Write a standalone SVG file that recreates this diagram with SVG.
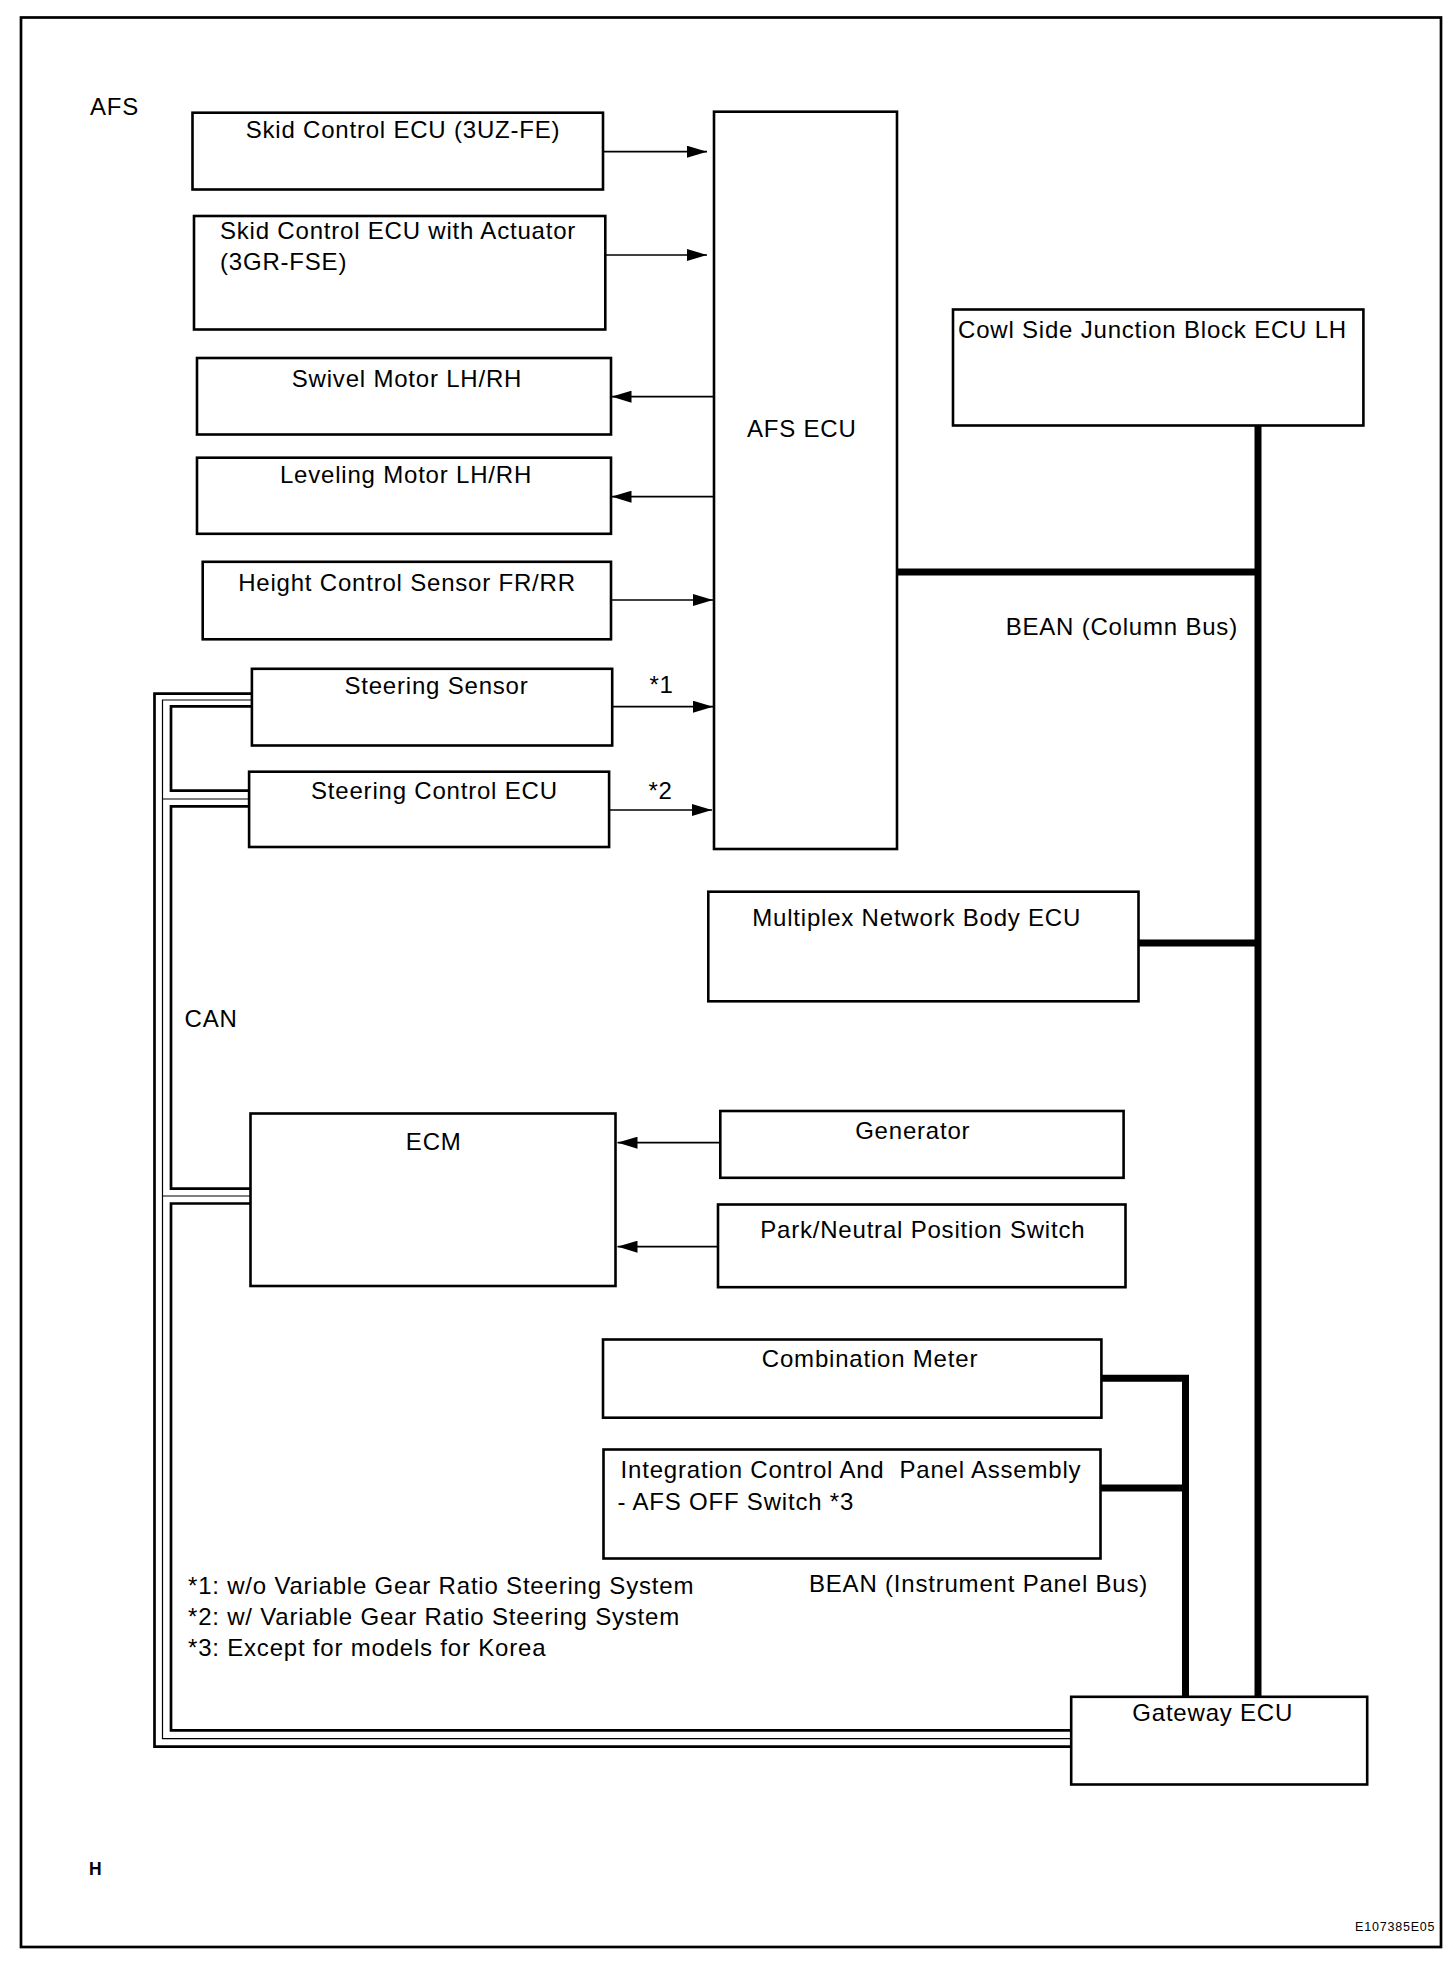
<svg xmlns="http://www.w3.org/2000/svg" width="1456" height="1970" viewBox="0 0 1456 1970">
<style>
  .box { fill: #fff; stroke: #000; stroke-width: 2.6; }
  .frame { fill: none; stroke: #000; stroke-width: 2.7; }
  .t { font-family: "Liberation Sans", Arial, sans-serif; font-size: 24px; letter-spacing: 0.8px; fill: #000; }
  .m { text-anchor: middle; }
  .arr { stroke: #000; stroke-width: 1.7; fill: none; marker-end: url(#ah); }
  .bean { stroke: #000; stroke-width: 7; fill: none; stroke-linejoin: miter; stroke-linecap: butt; }
  .canT { stroke: #000; stroke-width: 2.7; fill: none; stroke-linejoin: miter; }
  .canM { stroke: #000; stroke-width: 1.2; fill: none; }
</style>
<defs>
  <marker id="ah" viewBox="0 0 20 12" refX="20" refY="6" markerWidth="20" markerHeight="12" markerUnits="userSpaceOnUse" orient="auto">
    <path d="M0,0 L20,6 L0,12 z" fill="#000"/>
  </marker>
</defs>
<rect x="0" y="0" width="1456" height="1970" fill="#fff"/>
<rect class="frame" x="21" y="17.5" width="1420" height="1929.5"/>
<text class="t" x="90" y="115">AFS</text>

<g id="connectors">
  <line class="arr" x1="603" y1="151.7" x2="707" y2="151.7"/>
  <line class="arr" x1="605.3" y1="255" x2="707" y2="255"/>
  <line class="arr" x1="714" y1="396.7" x2="611.5" y2="396.7"/>
  <line class="arr" x1="714" y1="496.7" x2="611.5" y2="496.7"/>
  <line class="arr" x1="611" y1="600" x2="713" y2="600"/>
  <line class="arr" x1="612.2" y1="706.7" x2="713" y2="706.7"/>
  <line class="arr" x1="609.1" y1="810" x2="712" y2="810"/>
  <line class="arr" x1="720.3" y1="1142.7" x2="617.5" y2="1142.7"/>
  <line class="arr" x1="718" y1="1246.7" x2="617.5" y2="1246.7"/>
  <line class="bean" x1="1258" y1="425.5" x2="1258" y2="1696.8"/>
  <line class="bean" x1="897" y1="572" x2="1258" y2="572"/>
  <line class="bean" x1="1138.5" y1="943" x2="1258" y2="943"/>
  <path class="bean" d="M1101.4 1378.3 H1185.5 V1696.8"/>
  <line class="bean" x1="1100.5" y1="1488" x2="1189" y2="1488"/>
  <path class="canT" d="M251.9 693.7 H154.5 V1746.7 H1071.2"/>
  <path class="canM" d="M251.9 700 H162.5 V1738.7 H1071.2"/>
  <path class="canM" d="M162.5 799 H249.1"/>
  <path class="canM" d="M162.5 1196 H250.5"/>
  <path class="canT" d="M251.9 706.3 H171 V790.7 H249.1"/>
  <path class="canT" d="M249.1 806.3 H171 V1188.7 H250.5"/>
  <path class="canT" d="M250.5 1203.5 H171 V1730.3 H1071.2"/>
</g>

<g id="skid-3uz">
  <rect class="box" x="192.5" y="112.7" width="410.5" height="76.8"/>
  <text class="t m" x="403" y="138.3">Skid Control ECU (3UZ-FE)</text>
</g>
<g id="skid-3gr">
  <rect class="box" x="194" y="216" width="411.3" height="113.5"/>
  <text class="t" x="220" y="239">Skid Control ECU with Actuator</text>
  <text class="t" x="220" y="270">(3GR-FSE)</text>
</g>
<g id="swivel">
  <rect class="box" x="197" y="358" width="414" height="76.5"/>
  <text class="t m" x="407" y="387">Swivel Motor LH/RH</text>
</g>
<g id="leveling">
  <rect class="box" x="197" y="457.7" width="414" height="76.1"/>
  <text class="t m" x="406" y="483.3">Leveling Motor LH/RH</text>
</g>
<g id="height">
  <rect class="box" x="202.7" y="561.8" width="408.3" height="77.5"/>
  <text class="t m" x="407" y="590.7">Height Control Sensor FR/RR</text>
</g>
<g id="steering-sensor">
  <rect class="box" x="251.9" y="668.8" width="360.3" height="76.7"/>
  <text class="t m" x="436.5" y="694.3">Steering Sensor</text>
  <text class="t" x="649.4" y="693.3">*1</text>
</g>
<g id="steering-control">
  <rect class="box" x="249.1" y="771.7" width="360" height="75.3"/>
  <text class="t m" x="434.4" y="799">Steering Control ECU</text>
  <text class="t" x="648.4" y="799">*2</text>
</g>
<g id="afs-ecu">
  <rect class="box" x="714" y="111.7" width="183" height="737.3"/>
  <text class="t m" x="801.8" y="437">AFS ECU</text>
</g>
<g id="cowl">
  <rect class="box" x="953" y="309.5" width="410.4" height="116"/>
  <text class="t" x="958" y="338.3">Cowl Side Junction Block ECU LH</text>
</g>
<text class="t m" x="1121.8" y="635">BEAN (Column Bus)</text>
<g id="multiplex">
  <rect class="box" x="708.3" y="891.7" width="430.2" height="109.6"/>
  <text class="t m" x="916.7" y="926">Multiplex Network Body ECU</text>
</g>
<text class="t" x="184.6" y="1026.7">CAN</text>
<g id="ecm">
  <rect class="box" x="250.5" y="1113.5" width="365" height="172.5"/>
  <text class="t m" x="433.7" y="1150">ECM</text>
</g>
<g id="generator">
  <rect class="box" x="720.3" y="1111" width="403.3" height="66.8"/>
  <text class="t m" x="912.8" y="1139.3">Generator</text>
</g>
<g id="park-neutral">
  <rect class="box" x="718" y="1204.5" width="407.5" height="82.7"/>
  <text class="t m" x="922.8" y="1238.3">Park/Neutral Position Switch</text>
</g>
<g id="combination-meter">
  <rect class="box" x="603" y="1339.5" width="498.4" height="78.2"/>
  <text class="t m" x="870" y="1366.7">Combination Meter</text>
</g>
<g id="integration">
  <rect class="box" x="603.5" y="1449.5" width="497" height="109"/>
  <text class="t" x="620.6" y="1478.3" xml:space="preserve" style="white-space:pre">Integration Control And  Panel Assembly</text>
  <text class="t" x="617.5" y="1509.5">- AFS OFF Switch *3</text>
</g>
<text class="t m" x="978.5" y="1591.7">BEAN (Instrument Panel Bus)</text>
<g id="gateway">
  <rect class="box" x="1071.2" y="1696.8" width="296" height="87.7"/>
  <text class="t m" x="1212.7" y="1720.7">Gateway ECU</text>
</g>
<g id="notes">
  <text class="t" x="188" y="1594.3">*1: w/o Variable Gear Ratio Steering System</text>
  <text class="t" x="188" y="1625">*2: w/ Variable Gear Ratio Steering System</text>
  <text class="t" x="188" y="1656">*3: Except for models for Korea</text>
</g>
<text x="89" y="1875" style="font-family:'Liberation Sans',Arial,sans-serif;font-size:17.5px;font-weight:bold">H</text>
<text x="1355" y="1931" style="font-family:'Liberation Sans',Arial,sans-serif;font-size:12.5px;letter-spacing:0.8px">E107385E05</text>
</svg>
